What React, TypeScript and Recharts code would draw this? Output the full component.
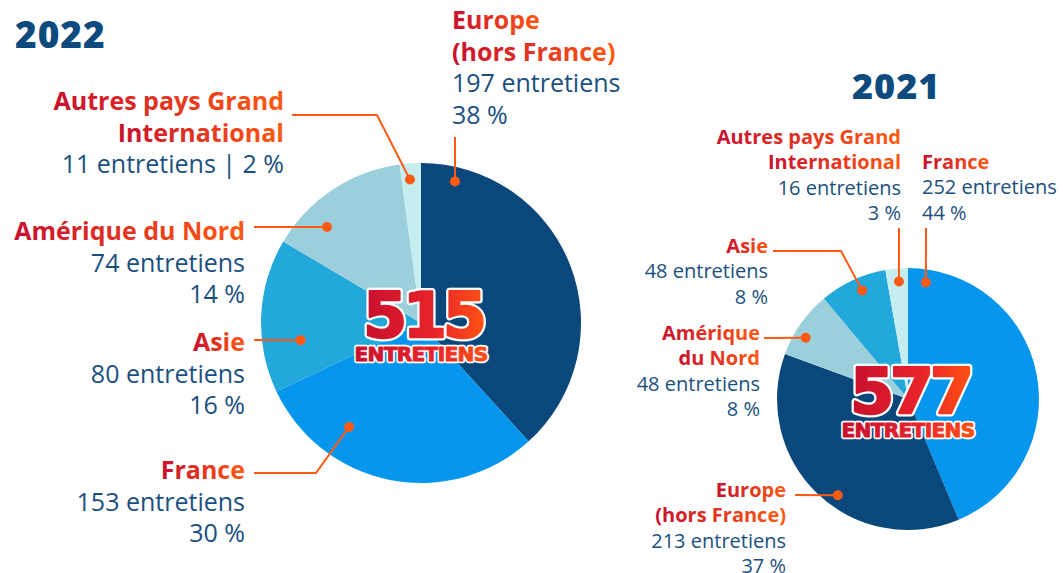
import { PieChart, Pie, Cell, Customized } from 'recharts';

// 2022
const cats2022 = ['Europe (hors France)', 'France', 'Asie', 'Amérique du Nord', 'Autres pays Grand International'];
const vals2022 = [197, 153, 80, 74, 11];
const pct2022 = [38, 30, 16, 14, 2];
const total2022 = 515;

// 2021
const cats2021 = ['France', 'Europe (hors France)', 'Amérique du Nord', 'Asie', 'Autres pays Grand International'];
const vals2021 = [252, 213, 48, 48, 16];
const pct2021 = [44, 37, 8, 8, 3];
const total2021 = 577;

const COLORS: Record<string, string> = {
  'Europe (hors France)': '#0a477a',
  'France': '#0796ee',
  'Asie': '#22a8db',
  'Amérique du Nord': '#9ccfdc',
  'Autres pays Grand International': '#c6eef0',
};

const NAVY = '#1a4f80';
const ORANGE = '#ff5a14';
const FONT = '"Open Sans", Lato, sans-serif';
const BIG_FONT = '"DejaVu Sans", sans-serif';

const data2022 = cats2022.map((name, i) => ({ name, value: vals2022[i], pct: pct2022[i] }));
const data2021 = cats2021.map((name, i) => ({ name, value: vals2021[i], pct: pct2021[i] }));

// label layout: dot as [angle, radius fraction], leader path, text block
type Lay = {
  dot: [number, number];
  path: [number, number][];
  x: number;
  y: number;
  anchor: 'start' | 'end';
  title: string[];
  sub: (v: number, p: number) => string[];
};

const two = (v: number, p: number) => [`${v} entretiens`, `${p} %`];

const layout2022: Record<string, Lay> = {
  'Europe (hors France)': { dot: [76.5, 0.91], path: [[455, 137]], x: 452, y: 29, anchor: 'start', title: ['Europe', '(hors France)'], sub: two },
  'France': { dot: [235.3, 0.79], path: [[316, 473], [254, 473]], x: 245, y: 479, anchor: 'end', title: ['France'], sub: two },
  'Asie': { dot: [188.1, 0.76], path: [[254, 340]], x: 245, y: 351, anchor: 'end', title: ['Asie'], sub: two },
  'Amérique du Nord': { dot: [134.4, 0.84], path: [[254, 227]], x: 245, y: 240, anchor: 'end', title: ['Amérique du Nord'], sub: two },
  'Autres pays Grand International': { dot: [94.4, 0.9], path: [[377, 115], [292, 115]], x: 284, y: 110, anchor: 'end', title: ['Autres pays Grand', 'International'], sub: (v, p) => [`${v} entretiens | ${p} %`] },
};

const layout2021: Record<string, Lay> = {
  'France': { dot: [81.3, 0.9], path: [[926, 228]], x: 922, y: 169, anchor: 'start', title: ['France'], sub: two },
  'Europe (hors France)': { dot: [233.9, 0.91], path: [[795, 495]], x: 786, y: 497, anchor: 'end', title: ['Europe', '(hors France)'], sub: two },
  'Amérique du Nord': { dot: [149.1, 0.91], path: [[764, 338]], x: 760, y: 340, anchor: 'end', title: ['Amérique', 'du Nord'], sub: two },
  'Asie': { dot: [112.9, 0.9], path: [[841, 251], [773, 251]], x: 768, y: 253, anchor: 'end', title: ['Asie'], sub: two },
  'Autres pays Grand International': { dot: [94.4, 0.9], path: [[899, 228]], x: 901, y: 144, anchor: 'end', title: ['Autres pays Grand', 'International'], sub: two },
};

const BigText = ({ x, y, fs, ls, children }: { x: number; y: number; fs: number; ls: number; children: any }) => (
  <g fontFamily={BIG_FONT} fontWeight={700} textAnchor="middle" strokeLinejoin="round">
    <text x={x} y={y} fontSize={fs} letterSpacing={ls} fill="#fff" stroke="#fff" strokeWidth={fs > 30 ? 7 : 4.5}>{children}</text>
    <text x={x} y={y} fontSize={fs} letterSpacing={ls} fill="url(#bigGrad)" stroke="url(#bigGrad)" strokeWidth={fs > 30 ? 2.5 : 1}>{children}</text>
  </g>
);

const Center = ({ x, y, total }: { x: number; y: number; total: number }) => (
  <g>
    <BigText x={x + 2} y={y + 14} fs={63} ls={-4}>{total}</BigText>
    <BigText x={x} y={y + 38} fs={20} ls={-0.6}>ENTRETIENS</BigText>
  </g>
);

const makeLabel = (lay: Record<string, Lay>, fs: number, lh: number, total: number) => (props: any) => {
  const { cx, cy, outerRadius, name, value, payload, index } = props;
  const l = lay[name];
  if (!l) return null;
  const rad = (l.dot[0] * Math.PI) / 180;
  const dx = cx + Math.cos(rad) * outerRadius * l.dot[1];
  const dy = cy - Math.sin(rad) * outerRadius * l.dot[1];
  const pts = [[dx, dy], ...l.path].map((p) => p.join(',')).join(' ');
  const sub = l.sub(value, payload.pct ?? props.pct);
  return (
    <g>
      <polyline points={pts} fill="none" stroke={ORANGE} strokeWidth={2} />
      <circle cx={dx} cy={dy} r={5} fill={ORANGE} />
      {l.title.map((t, i) => (
        <text key={'t' + i} x={l.x} y={l.y + i * lh} textAnchor={l.anchor} fontFamily={FONT} fontWeight={700} fontSize={fs} fill="url(#titleGrad)">
          {t}
        </text>
      ))}
      {sub.map((t, i) => (
        <text key={'s' + i} x={l.x} y={l.y + (l.title.length + i) * lh} textAnchor={l.anchor} fontFamily={FONT} fontSize={fs} fill={NAVY}>
          {t}
        </text>
      ))}
      {index === 0 && <Center x={cx} y={cy} total={total} />}
    </g>
  );
};

const Deco = () => (
  <g>
    <defs>
      <linearGradient id="titleGrad" x1="0" y1="0" x2="1" y2="0">
        <stop offset="0%" stopColor="#c8102e" />
        <stop offset="100%" stopColor="#ff5a14" />
      </linearGradient>
      <linearGradient id="bigGrad" x1="0" y1="0" x2="1" y2="0">
        <stop offset="0%" stopColor="#c8102e" />
        <stop offset="60%" stopColor="#e8242a" />
        <stop offset="100%" stopColor="#ff5014" />
      </linearGradient>
    </defs>
    <text x={15} y={48} fontFamily={FONT} fontWeight={800} fontSize={37} letterSpacing={1} fill="#0d4a7e">2022</text>
    <text x={852} y={99} fontFamily={FONT} fontWeight={800} fontSize={36} letterSpacing={1} fill="#0d4a7e">2021</text>
  </g>
);

export default function App() {
  return (
    <div style={{ position: 'absolute', left: 0, top: 0, width: 1063, height: 573, background: '#fff' }}>
      <PieChart width={1063} height={573} margin={{ top: 0, right: 0, bottom: 0, left: 0 }}>
        <Customized component={Deco} />
        <Pie
          data={data2022}
          dataKey="value"
          nameKey="name"
          cx={421}
          cy={323}
          outerRadius={160}
          startAngle={90}
          endAngle={-270}
          stroke="none"
          isAnimationActive={false}
          labelLine={false}
          label={makeLabel(layout2022, 25, 31.5, total2022)}
        >
          {data2022.map((d) => (
            <Cell key={d.name} fill={COLORS[d.name]} />
          ))}
        </Pie>
        <Pie
          data={data2021}
          dataKey="value"
          nameKey="name"
          cx={908}
          cy={399}
          outerRadius={131}
          startAngle={90}
          endAngle={-270}
          stroke="none"
          isAnimationActive={false}
          labelLine={false}
          label={makeLabel(layout2021, 20, 25.3, total2021)}
        >
          {data2021.map((d) => (
            <Cell key={d.name} fill={COLORS[d.name]} />
          ))}
        </Pie>
      </PieChart>
    </div>
  );
}
